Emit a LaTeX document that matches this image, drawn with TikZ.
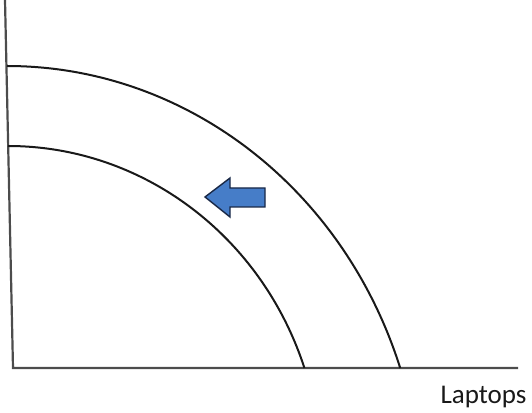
\documentclass[tikz,border=0pt]{standalone}
\usepackage{fontspec}
\setmainfont{Carlito}
\begin{document}
\begin{tikzpicture}[x=1pt,y=1pt,
  axisline/.style={line width=2.2pt, draw=black!70},
  curveline/.style={line width=2pt, draw=black!90},
  blockarrow/.style={fill={rgb,255:red,70;green,125;blue,200}, draw={rgb,255:red,25;green,40;blue,70}, line width=1.4pt, line join=miter}]
\useasboundingbox (0,0) rectangle (532,412);
\coordinate (ytop) at (5,412);
\coordinate (orig) at (13,44);
\coordinate (xend) at (518,44);
\draw[axisline] (ytop) -- (orig) -- (xend);
% outer frontier
\draw[curveline] (7,346) arc[start angle=90, end angle=18.65, x radius=415pt, y radius=444pt];
% inner frontier
\draw[curveline] (8,266) arc[start angle=90, end angle=18.73, x radius=313pt, y radius=327pt];
% shift arrow
\draw[blockarrow] (205,215) -- (230,234) -- (230,224) -- (265,224) -- (265,205) -- (230,205) -- (230,195) -- cycle;
\node[anchor=base, font=\fontsize{27}{31}\selectfont, text=black!90, inner sep=0pt] (xlabel) at (483.5,9) {Laptops};
\end{tikzpicture}
\end{document}
